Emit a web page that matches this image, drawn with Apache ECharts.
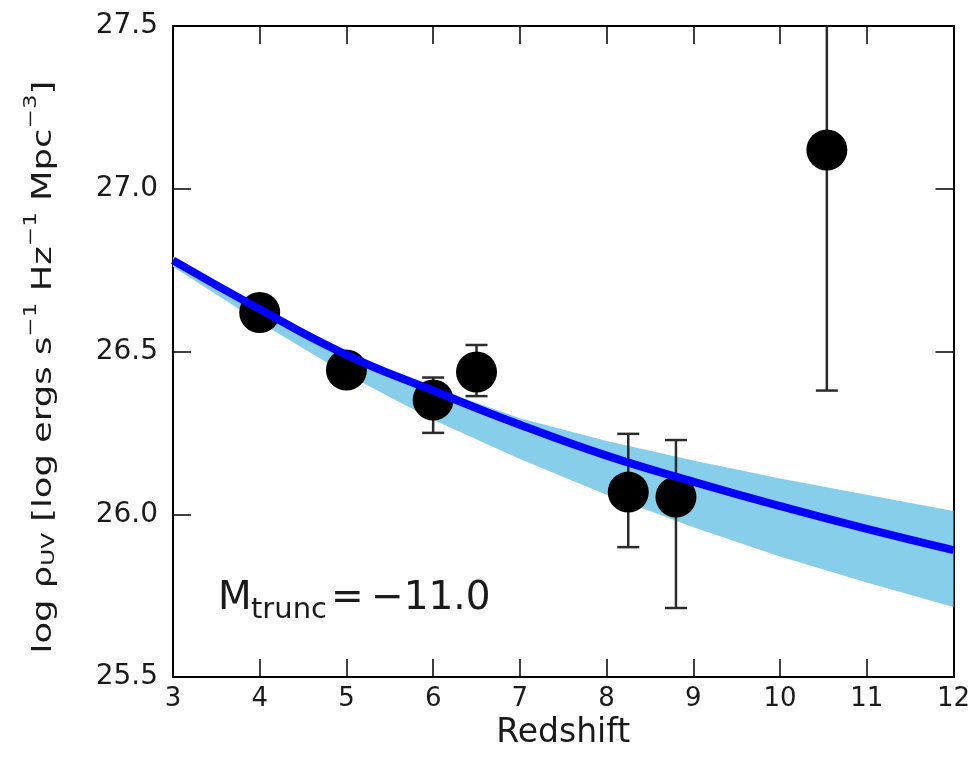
<!DOCTYPE html>
<html>
<head>
<meta charset="utf-8">
<script src="https://cdn.jsdelivr.net/npm/echarts@6/dist/echarts.min.js"></script>
<style>
  html, body { margin: 0; padding: 0; background: #fff; }
  #chart { width: 973px; height: 777px; }
</style>
</head>
<body>
<div id="chart"></div>
<script>
// ---- data ----
const zData   = [4, 5, 6, 6.5, 8.25, 8.8, 10.54];
const rhoData = [26.62, 26.443, 26.351, 26.437, 26.068, 26.053, 27.119];
const errLow  = [26.58, 26.40, 26.25, 26.363, 25.899, 25.712, 26.38];
const errHigh = [26.66, 26.48, 26.42, 26.52, 26.247, 26.228, 27.9];

const zCurve   = [3, 4, 5, 6, 7, 8, 9, 10, 11, 12];
const rhoFit   = [26.78, 26.63, 26.49, 26.38, 26.275, 26.18, 26.10, 26.025, 25.955, 25.89];
const bandLow  = [26.76, 26.59, 26.43, 26.29, 26.17, 26.06, 25.96, 25.87, 25.79, 25.715];
const bandHigh = [26.79, 26.64, 26.50, 26.39, 26.295, 26.225, 26.165, 26.11, 26.06, 26.01];

const xTicks = [3, 4, 5, 6, 7, 8, 9, 10, 11, 12];
const yTicks = [25.5, 26.0, 26.5, 27.0, 27.5];

const chart = echarts.init(document.getElementById('chart'), null, { renderer: 'canvas' });

const FONT = 'DejaVu Sans';
const tickStyle = { show: true, inside: true, length: 18, lineStyle: { color: '#000', width: 1.5 } };
const lineStyleAxis = { show: true, lineStyle: { color: '#000', width: 2 } };

const option = {
  backgroundColor: '#fff',
  animation: false,
  grid: { left: 173, right: 16, top: 26, bottom: 100, containLabel: false },
  xAxis: [
    {
      type: 'value', min: xTicks[0], max: xTicks[xTicks.length - 1], interval: 1,
      position: 'bottom',
      axisLine: lineStyleAxis, axisTick: tickStyle, splitLine: { show: false },
      axisLabel: { color: '#1a1a1a', fontFamily: FONT, fontSize: 26, margin: 9 },
      name: 'Redshift', nameLocation: 'middle', nameGap: 34,
      nameTextStyle: { color: '#1a1a1a', fontFamily: FONT, fontSize: 33 }
    },
    {
      type: 'value', min: xTicks[0], max: xTicks[xTicks.length - 1], interval: 1,
      position: 'top',
      axisLine: lineStyleAxis, axisTick: tickStyle, splitLine: { show: false },
      axisLabel: { show: false }
    }
  ],
  yAxis: [
    {
      type: 'value', min: yTicks[0], max: yTicks[yTicks.length - 1], interval: 0.5,
      position: 'left',
      axisLine: lineStyleAxis, axisTick: tickStyle, splitLine: { show: false },
      axisLabel: { color: '#1a1a1a', fontFamily: FONT, fontSize: 28, margin: 15,
                   formatter: v => v.toFixed(1) }
    },
    {
      type: 'value', min: yTicks[0], max: yTicks[yTicks.length - 1], interval: 0.5,
      position: 'right',
      axisLine: lineStyleAxis, axisTick: tickStyle, splitLine: { show: false },
      axisLabel: { show: false }
    }
  ],
  graphic: [
    {
      type: 'text', x: 40, y: 367, rotation: Math.PI / 2, scaleX: 1.36, scaleY: 1.05, z: 100,
      style: {
        text: '{b|log ρ}{sub|UV}{b| [log ergs s}{sup|−1}{b| Hz}{sup|−1}{b| Mpc}{sup|−3}{b|]}',
        align: 'center', verticalAlign: 'middle',
        fill: '#1a1a1a',
        rich: {
          b:   { fontFamily: FONT, fontSize: 26, lineHeight: 34, verticalAlign: 'bottom', fill: '#1a1a1a' },
          sup: { fontFamily: FONT, fontSize: 17, lineHeight: 20, verticalAlign: 'top', fill: '#1a1a1a' },
          sub: { fontFamily: FONT, fontSize: 17, lineHeight: 20, verticalAlign: 'bottom', fill: '#1a1a1a' }
        }
      }
    },
    { type: 'text', x: 218, y: 599, z: 100, style: { text: 'M', fontFamily: FONT, fontSize: 39, fill: '#1a1a1a', verticalAlign: 'middle' } },
    { type: 'text', x: 251, y: 610, z: 100, style: { text: 'trunc', fontFamily: FONT, fontSize: 29, fill: '#1a1a1a', verticalAlign: 'middle' } },
    { type: 'text', x: 331, y: 599, z: 100, style: { text: '=', fontFamily: FONT, fontSize: 39, fill: '#1a1a1a', verticalAlign: 'middle' } },
    { type: 'text', x: 371, y: 599, z: 100, style: { text: '−11.0', fontFamily: FONT, fontSize: 39, fill: '#1a1a1a', verticalAlign: 'middle' } }
  ],
  series: [
    {
      name: 'band', type: 'custom', z: 1, silent: true,
      data: [0],
      renderItem: function (params, api) {
        const upper = zCurve.map((z, i) => api.coord([z, bandHigh[i]]));
        const lower = zCurve.map((z, i) => api.coord([z, bandLow[i]])).reverse();
        return {
          type: 'polygon',
          shape: { points: upper.concat(lower) },
          style: { fill: '#87CEEB', stroke: null }
        };
      }
    },
    {
      name: 'errors', type: 'custom', z: 2, silent: true,
      encode: { x: 0, y: [1, 2] },
      data: zData.map((z, i) => [z, errLow[i], errHigh[i]]),
      renderItem: function (params, api) {
        const cs = params.coordSys;
        const x = api.value(0);
        const pLo = api.coord([x, api.value(1)]);
        const pHi = api.coord([x, api.value(2)]);
        const topY = Math.max(pHi[1], cs.y);
        const botY = Math.min(pLo[1], cs.y + cs.height);
        const st = { stroke: '#2b2b2b', lineWidth: 2.5 };
        const half = 11;
        const children = [
          { type: 'line', shape: { x1: pLo[0], y1: topY, x2: pLo[0], y2: botY }, style: st }
        ];
        if (pHi[1] >= cs.y) children.push({ type: 'line', shape: { x1: pHi[0] - half, y1: pHi[1], x2: pHi[0] + half, y2: pHi[1] }, style: st });
        if (pLo[1] <= cs.y + cs.height) children.push({ type: 'line', shape: { x1: pLo[0] - half, y1: pLo[1], x2: pLo[0] + half, y2: pLo[1] }, style: st });
        return { type: 'group', children };
      }
    },
    {
      name: 'data', type: 'scatter', z: 3, symbol: 'circle', symbolSize: 41,
      itemStyle: { color: '#000', opacity: 1 },
      data: zData.map((z, i) => [z, rhoData[i]])
    },
    {
      name: 'fit', type: 'line', z: 4, smooth: true, symbol: 'none',
      lineStyle: { color: '#0000ff', width: 8 },
      data: zCurve.map((z, i) => [z, rhoFit[i]])
    }
  ]
};

chart.setOption(option);
</script>
</body>
</html>
